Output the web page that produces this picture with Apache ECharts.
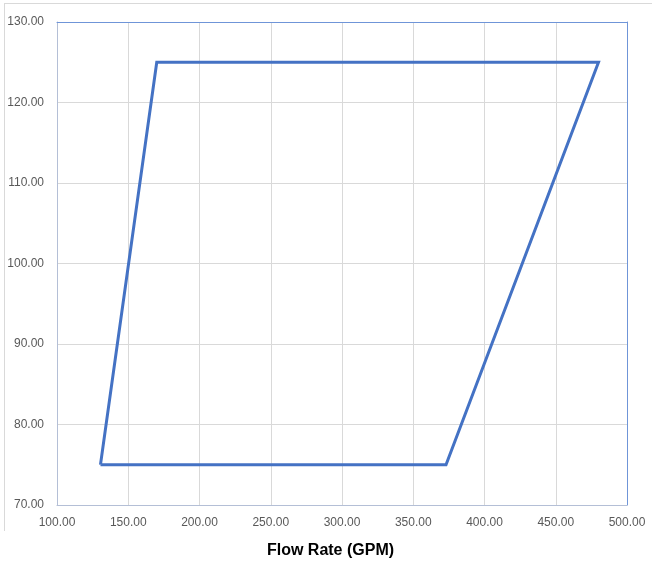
<!DOCTYPE html>
<html>
<head>
<meta charset="utf-8">
<script src="https://cdn.jsdelivr.net/npm/echarts@6/dist/echarts.min.js"></script>
<style>
html,body{margin:0;padding:0;background:#fff;}
#c{width:652px;height:564px;}
</style>
</head>
<body>
<div id="c"></div>
<script>
const flowRate = [130.5, 170, 480, 373, 130.5];
const head = [75, 125, 125, 75, 75];
const xTicks = [100, 500, 50];
const yTicks = [70, 130, 10];
const xTitle = 'Flow Rate (GPM)';

const chart = echarts.init(document.getElementById('c'), null, {renderer: 'canvas'});
const font = 'Liberation Sans, Arial, sans-serif';
const labelStyle = {color: '#595959', fontSize: 12, fontFamily: font, formatter: v => v.toFixed(2)};
chart.setOption({
  animation: false,
  graphic: [
    {type: 'line', shape: {x1: 4, y1: 3.5, x2: 652, y2: 3.5}, style: {stroke: '#d9d9d9', lineWidth: 1}},
    {type: 'line', shape: {x1: 4.5, y1: 3, x2: 4.5, y2: 531}, style: {stroke: '#d9d9d9', lineWidth: 1}}
  ],
  grid: {left: 57, right: 25, top: 22, bottom: 57, show: false, containLabel: false},
  xAxis: [{
    type: 'value', min: xTicks[0], max: xTicks[1], interval: xTicks[2],
    name: xTitle, nameLocation: 'middle', nameGap: 38,
    nameTextStyle: {color: '#000', fontSize: 16, fontWeight: 'bold', fontFamily: font, padding: [0, 23, 0, 0]},
    axisLine: {show: true, lineStyle: {color: '#b4bfd6', width: 1}},
    axisTick: {show: false},
    axisLabel: Object.assign({margin: 12}, labelStyle),
    splitLine: {show: true, lineStyle: {color: '#d9d9d9', width: 1}}
  }, {
    type: 'value', position: 'top', min: xTicks[0], max: xTicks[1], interval: xTicks[2],
    axisLine: {show: true, lineStyle: {color: '#6f95d8', width: 1}},
    axisTick: {show: false}, axisLabel: {show: false}, splitLine: {show: false}
  }],
  yAxis: [{
    type: 'value', min: yTicks[0], max: yTicks[1], interval: yTicks[2],
    axisLine: {show: true, lineStyle: {color: '#b4bfd6', width: 1}},
    axisTick: {show: false},
    axisLabel: Object.assign({margin: 13}, labelStyle),
    splitLine: {show: true, lineStyle: {color: '#d9d9d9', width: 1}}
  }, {
    type: 'value', position: 'right', min: yTicks[0], max: yTicks[1], interval: yTicks[2],
    axisLine: {show: true, lineStyle: {color: '#6f95d8', width: 1}},
    axisTick: {show: false}, axisLabel: {show: false}, splitLine: {show: false}
  }],
  series: [{
    type: 'line',
    xAxisIndex: 0, yAxisIndex: 0,
    data: flowRate.map((x, i) => [x, head[i]]),
    showSymbol: false,
    symbol: 'none',
    lineStyle: {color: '#4472c4', width: 3, join: 'miter'},
    itemStyle: {color: '#4472c4'}
  }]
});
</script>
</body>
</html>
